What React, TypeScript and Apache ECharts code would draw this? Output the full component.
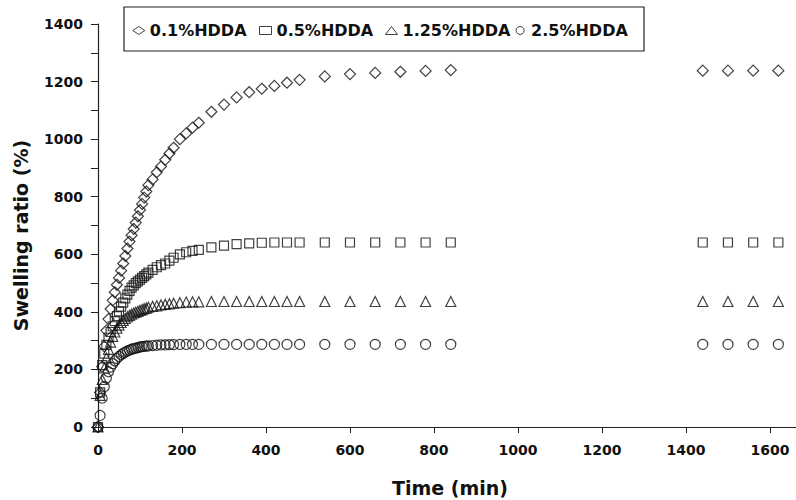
import React, { useEffect, useRef } from "react";
import * as echarts from "echarts";

const times = [0, 5, 10, 15, 20, 25, 30, 35, 40, 45, 50, 55, 60, 65, 70, 75, 80, 85, 90, 95, 100, 105, 110, 115, 120,
  130, 140, 150, 160, 170, 180, 195, 210, 225, 240, 270, 300, 330, 360, 390, 420, 450, 480,
  540, 600, 660, 720, 780, 840, 1440, 1500, 1560, 1620];

const hdda01 = [0, 120, 210, 280, 335, 375, 410, 440, 468, 494, 518, 543, 568, 594, 620, 644, 666, 688, 710, 732, 754, 775, 797, 818, 840,
  860, 885, 905, 928, 950, 970, 1000, 1020, 1040, 1057, 1095, 1120, 1145, 1163, 1175, 1185, 1196, 1206,
  1218, 1226, 1230, 1234, 1237, 1240, 1238, 1238, 1238, 1238];

const hdda05 = [0, 120, 215, 255, 285, 310, 330, 350, 368, 385, 402, 418, 432, 447, 460, 473, 484, 492, 500, 506, 512, 518, 524, 530, 536,
  546, 555, 562, 568, 578, 588, 600, 607, 612, 615, 624, 630, 635, 638, 640, 641, 641, 641,
  641, 641, 641, 641, 641, 641, 641, 641, 641, 641];

const hdda125 = [0, 110, 165, 205, 240, 270, 295, 315, 330, 343, 354, 363, 370, 377, 383, 388, 392, 396, 399, 402, 405, 408, 411, 413, 416,
  419, 421, 424, 426, 428, 430, 432, 434, 435, 435, 436, 436, 436, 436, 436, 436, 436, 436,
  436, 436, 436, 436, 436, 436, 436, 436, 436, 436];

const hdda25 = [0, 40, 100, 140, 170, 192, 208, 220, 230, 238, 245, 251, 256, 260, 264, 267, 270, 272, 274, 276, 278, 279, 280, 281, 282,
  283, 284, 285, 285, 286, 286, 287, 287, 287, 287, 287, 287, 287, 287, 287, 287, 287, 287,
  287, 287, 287, 287, 287, 287, 287, 287, 287, 287];

const seriesNames = ["0.1%HDDA", "0.5%HDDA", "1.25%HDDA", "2.5%HDDA"];
const seriesSymbols = ["diamond", "rect", "triangle", "circle"];
const seriesValues = [hdda01, hdda05, hdda125, hdda25];

const FONT = "DejaVu Sans";
const INK = "#111";

export default function App() {
  const ref = useRef<HTMLDivElement>(null);
  useEffect(() => {
    if (!ref.current) return;
    const chart = echarts.init(ref.current, null, { renderer: "svg" });
    const sizes = [11, 9, 10, 10];
    const legendCenters = [138.3, 265, 391, 521.6];
    const hollow = { color: "transparent", borderColor: "#111", borderWidth: 1.2 };
    chart.setOption({
      animation: false,
      backgroundColor: "#ffffff",
      grid: { left: 98, right: 0, top: 24, bottom: 73, outerBoundsMode: "none", containLabel: false },
      xAxis: {
        type: "value",
        min: 0,
        max: 1662,
        interval: 200,
        name: "Time (min)",
        nameLocation: "middle",
        nameGap: 51,
        nameTextStyle: { fontFamily: FONT, fontWeight: "bold", fontSize: 19, color: INK, padding: [0, 0, 0, 6] },
        axisLine: { lineStyle: { color: "#222", width: 1.2 } },
        axisTick: { show: true, length: 6, lineStyle: { color: "#222" } },
        axisLabel: {
          margin: 16,
          fontFamily: FONT, fontWeight: "bold", fontSize: 14, color: INK,
          formatter: (v: number) => (v % 200 === 0 ? String(v) : ""),
        },
        splitLine: { show: false },
      },
      yAxis: {
        type: "value",
        min: 0,
        max: 1400,
        interval: 100,
        name: "Swelling ratio (%)",
        nameLocation: "middle",
        nameGap: 68,
        nameRotate: 90,
        nameTextStyle: { fontFamily: FONT, fontWeight: "bold", fontSize: 19, color: INK, padding: [0, 20, 0, 0] },
        axisLine: { show: true, lineStyle: { color: "#222", width: 1.2 } },
        axisTick: { show: true, length: 7, lineStyle: { color: "#222" } },
        axisLabel: {
          margin: 15,
          fontFamily: FONT, fontWeight: "bold", fontSize: 14, color: INK,
          formatter: (v: number) => (v % 200 === 0 ? String(v) : ""),
        },
        splitLine: { show: false },
      },
      graphic: [
        {
          type: "rect",
          shape: { x: 124, y: 7, width: 520, height: 44 },
          style: { fill: "#fff", stroke: "#222", lineWidth: 1.2 },
          z: 0,
        },
      ],
      legend: seriesNames.map((n, i) => ({
        data: [{ name: n, icon: seriesSymbols[i], itemStyle: { color: "transparent", borderColor: "#111", borderWidth: 1 } }],
        left: legendCenters[i] - 6,
        top: 21.5,
        padding: 0,
        itemWidth: 12,
        itemHeight: 8,
        z: 10,
        textStyle: { fontFamily: FONT, fontWeight: "bold", fontSize: 16, color: INK, lineHeight: 18 },
      })),
      series: seriesNames.map((n, i) => ({
        name: n,
        type: "scatter",
        symbol: seriesSymbols[i],
        symbolSize: sizes[i],
        itemStyle: hollow,
        data: times.map((t, k) => [t, seriesValues[i][k]]),
      })),
    });
    return () => chart.dispose();
  }, []);
  return <div ref={ref} style={{ position: "fixed", left: 0, top: 0, width: 796, height: 500 }} />;
}
